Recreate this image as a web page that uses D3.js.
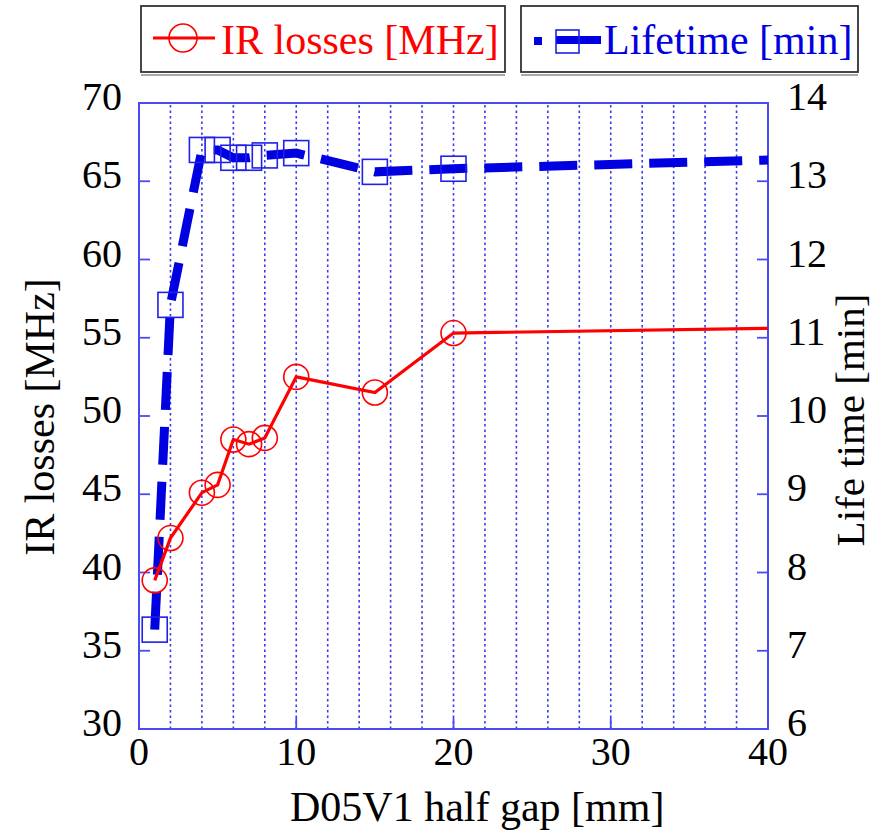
<!DOCTYPE html>
<html>
<head>
<meta charset="utf-8">
<script src="https://cdn.jsdelivr.net/npm/d3@7"></script>
<style>
  body { margin: 0; background: #fff; }
</style>
</head>
<body>
<svg id="chart" width="873" height="836"></svg>
<script>
// half gap [mm]
var gapIR = [1, 2, 4, 5, 6, 7, 8, 10, 15, 20, 40];
var irLosses = [39.5, 42.2, 45.1, 45.6, 48.5, 48.2, 48.6, 52.5, 51.5, 55.3, 55.6];
var gapLife = [1, 2, 4, 5, 6, 7, 8, 10, 15, 20, 40];
var lifetime = [7.27, 11.42, 13.4, 13.4, 13.3, 13.3, 13.33, 13.36, 13.12, 13.16, 13.27];
// last point of each series has no marker in the picture
var markerMaxX = 20;

var xTicks = [0, 10, 20, 30, 40];
var gridX = d3.range(2, 40, 2);
var leftTicks = [30, 35, 40, 45, 50, 55, 60, 65, 70];
var rightTicks = [6, 7, 8, 9, 10, 11, 12, 13, 14];

var margin = { left: 139, right: 105, top: 103, bottom: 107 };
var W = 873, H = 836;
var FONT = "'Liberation Serif'";

var svg = d3.select('#chart');

var x = d3.scaleLinear().domain([0, 40]).range([margin.left, W - margin.right]);
var yL = d3.scaleLinear().domain([30, 70]).range([H - margin.bottom, margin.top]);
var yR = d3.scaleLinear().domain([6, 14]).range([H - margin.bottom, margin.top]);

var frameColor = '#4a4af5';
var x0 = x(0), x1 = x(40), y0 = yL(30), y1 = yL(70);

function addText(parent, size) {
  return parent.append('text')
    .style('font-family', FONT)
    .style('font-size', size + 'px');
}

// dotted grid
svg.append('g').selectAll('line')
  .data(gridX)
  .enter()
  .append('line')
  .attr('x1', function (d) { return x(d); })
  .attr('x2', function (d) { return x(d); })
  .attr('y1', y0)
  .attr('y2', y1)
  .style('stroke', '#3a3af0')
  .style('stroke-width', 1.6)
  .style('stroke-dasharray', '2.5,3');

// frame
svg.append('rect')
  .attr('x', x0).attr('y', y1)
  .attr('width', x1 - x0).attr('height', y0 - y1)
  .style('fill', 'none')
  .style('stroke', frameColor)
  .style('stroke-width', 2);

// inward ticks
var tickLen = 11;
var tickStyle = function (sel) {
  sel.style('stroke', frameColor).style('stroke-width', 1.8);
};

svg.append('g').selectAll('line')
  .data(leftTicks.slice(1, -1))
  .enter().append('line')
  .attr('x1', x0).attr('x2', x0 + tickLen)
  .attr('y1', function (d) { return yL(d); })
  .attr('y2', function (d) { return yL(d); })
  .call(tickStyle);

svg.append('g').selectAll('line')
  .data(rightTicks.slice(1, -1))
  .enter().append('line')
  .attr('x1', x1).attr('x2', x1 - tickLen)
  .attr('y1', function (d) { return yR(d); })
  .attr('y2', function (d) { return yR(d); })
  .call(tickStyle);

svg.append('g').selectAll('line')
  .data(xTicks.slice(1, -1))
  .enter().append('line')
  .attr('x1', function (d) { return x(d); })
  .attr('x2', function (d) { return x(d); })
  .attr('y1', y0).attr('y2', y0 - tickLen)
  .call(tickStyle);

// tick labels
var fs = 40;

svg.append('g').selectAll('text')
  .data(leftTicks)
  .enter().append('text')
  .style('font-family', FONT)
  .style('font-size', fs + 'px')
  .attr('x', x0 - 17)
  .attr('y', function (d) { return yL(d); })
  .attr('dy', 7)
  .attr('text-anchor', 'end')
  .text(function (d) { return d; });

svg.append('g').selectAll('text')
  .data(rightTicks)
  .enter().append('text')
  .style('font-family', FONT)
  .style('font-size', fs + 'px')
  .attr('x', x1 + 19)
  .attr('y', function (d) { return yR(d); })
  .attr('dy', 7)
  .text(function (d) { return d; });

svg.append('g').selectAll('text')
  .data(xTicks)
  .enter().append('text')
  .style('font-family', FONT)
  .style('font-size', fs + 'px')
  .attr('x', function (d) { return x(d); })
  .attr('y', y0 + 36)
  .attr('text-anchor', 'middle')
  .text(function (d) { return d; });

// axis titles
addText(svg, 42)
  .attr('transform', 'translate(54,417) rotate(-90)')
  .attr('text-anchor', 'middle')
  .text('IR losses [MHz]');

addText(svg, 41)
  .attr('transform', 'translate(864,420) rotate(-90)')
  .attr('text-anchor', 'middle')
  .text('Life time [min]');

addText(svg, 42)
  .attr('x', 290)
  .attr('y', 821)
  .text('D05V1 half gap [mm]');

// lifetime series (right axis)
var blue = '#0000e0';
var lifePts = gapLife.map(function (g, i) { return [g, lifetime[i]]; });

svg.append('path')
  .datum(lifePts)
  .attr('d', d3.line()
    .x(function (d) { return x(d[0]); })
    .y(function (d) { return yR(d[1]); }))
  .style('fill', 'none')
  .style('stroke', blue)
  .style('stroke-width', 9)
  .style('stroke-dasharray', '38,17');

var sq = 25;
svg.append('g').selectAll('rect')
  .data(lifePts.filter(function (d) { return d[0] <= markerMaxX; }))
  .enter().append('rect')
  .attr('x', function (d) { return x(d[0]) - sq / 2; })
  .attr('y', function (d) { return yR(d[1]) - sq / 2; })
  .attr('width', sq).attr('height', sq)
  .style('fill', 'none')
  .style('stroke', '#2020e8')
  .style('stroke-width', 1.6);

// IR losses series (left axis)
var red = '#ff0000';
var irPts = gapIR.map(function (g, i) { return [g, irLosses[i]]; });

svg.append('path')
  .datum(irPts)
  .attr('d', d3.line()
    .x(function (d) { return x(d[0]); })
    .y(function (d) { return yL(d[1]); }))
  .style('fill', 'none')
  .style('stroke', red)
  .style('stroke-width', 3.2);

svg.append('g').selectAll('circle')
  .data(irPts.filter(function (d) { return d[0] <= markerMaxX; }))
  .enter().append('circle')
  .attr('cx', function (d) { return x(d[0]); })
  .attr('cy', function (d) { return yL(d[1]); })
  .attr('r', 12.5)
  .style('fill', 'none')
  .style('stroke', red)
  .style('stroke-width', 1.6);

// legend
function legendBox(x, w) {
  svg.append('rect')
    .attr('x', x).attr('y', 6)
    .attr('width', w).attr('height', 66)
    .style('fill', '#fff')
    .style('stroke', '#333')
    .style('stroke-width', 1.8);
  svg.append('line')
    .attr('x1', x).attr('x2', x + w)
    .attr('y1', 75).attr('y2', 75)
    .style('stroke', '#aaa')
    .style('stroke-width', 2);
}

legendBox(141, 364);
legendBox(521, 337);

svg.append('line')
  .attr('x1', 153).attr('x2', 215)
  .attr('y1', 38).attr('y2', 38)
  .style('stroke', red).style('stroke-width', 3);
svg.append('circle')
  .attr('cx', 183).attr('cy', 38).attr('r', 14)
  .style('fill', 'none').style('stroke', red).style('stroke-width', 1.6);
addText(svg, 42)
  .attr('x', 221).attr('y', 54)
  .style('fill', red)
  .text('IR losses [MHz]');

svg.append('rect')
  .attr('x', 534).attr('y', 37).attr('width', 8).attr('height', 8)
  .style('fill', blue);
svg.append('line')
  .attr('x1', 556).attr('x2', 601)
  .attr('y1', 40).attr('y2', 40)
  .style('stroke', blue).style('stroke-width', 8);
svg.append('rect')
  .attr('x', 556).attr('y', 30).attr('width', 23).attr('height', 23)
  .style('fill', 'none').style('stroke', '#2020e8').style('stroke-width', 1.6);
addText(svg, 42)
  .attr('x', 604).attr('y', 54)
  .style('fill', blue)
  .text('Lifetime [min]');
</script>
</body>
</html>
